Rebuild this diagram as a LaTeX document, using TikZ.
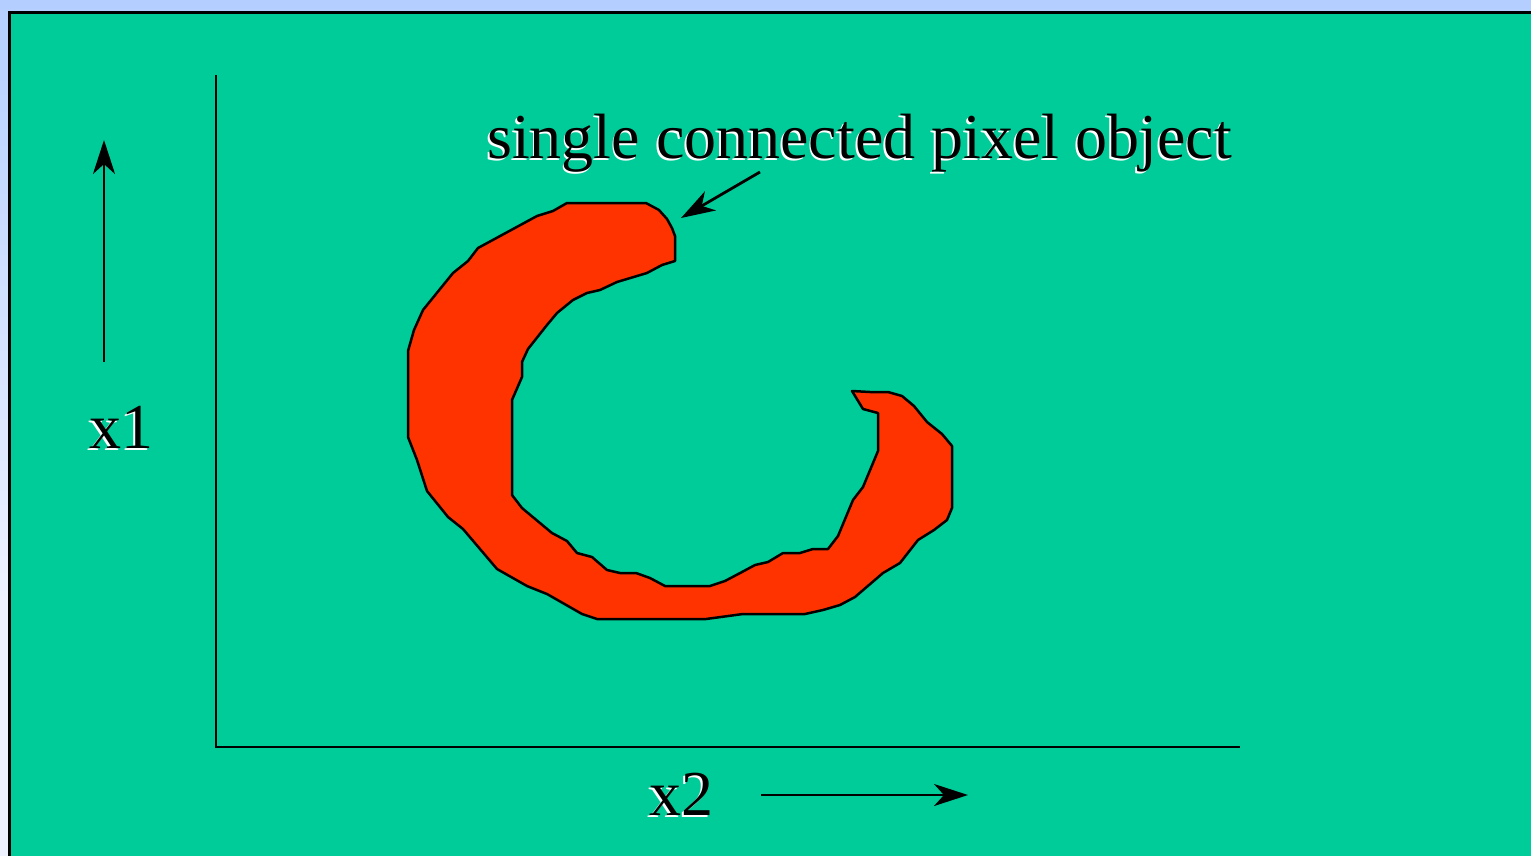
\documentclass[tikz,border=0pt]{standalone}
\usepackage{fontspec}
\setmainfont{Liberation Serif}
\usetikzlibrary{arrows.meta}
\definecolor{bggreen}{HTML}{00CC99}
\definecolor{blobred}{HTML}{FF3300}
\definecolor{bgA}{HTML}{D0DFFC}
\definecolor{bgB}{HTML}{EEF2FF}
\definecolor{bgC}{HTML}{A8C8FF}
\definecolor{bgD}{HTML}{50A0FF}
\pgfdeclareverticalshading{bgshade}{100bp}{color(0bp)=(bgA); color(15bp)=(bgB); color(40bp)=(bgB); color(82bp)=(bgC); color(100bp)=(bgD)}
\newcommand\shd[1]{\rlap{\kern-1.5pt\raisebox{-2pt}{\color{white}#1}}#1}
\tikzset{
  lbl/.style={inner sep=0pt, font=\fontsize{64}{64}\selectfont, text=black},
  arr/.style={line width=2.8pt, -{Stealth[length=34pt,width=22pt,inset=10pt]}},
  axis/.style={line width=2pt},
  blob/.style={fill=blobred, draw=black, line width=2.5pt, line join=round}
}
\begin{document}
\begin{tikzpicture}[x=1pt,y=-1pt]
\useasboundingbox (0,0) rectangle (1531,855);
\clip (0,0) rectangle (1531,855);
\shade[shading=bgshade] (0,0) rectangle (1531,855);
\draw[fill=bggreen, line width=3pt] (9.5,12.5) rectangle (1545,870);
% axes
\coordinate (o) at (216,747);
\coordinate (ytop) at (216,75);
\coordinate (xend) at (1240,747);
\draw[axis] (ytop) -- (o) -- (xend);
% blob
\draw[blob] (567,203)--(646,203)--(659,210)--(667,219)--(672,228)--(675,236)--(675,261)--(662,265)--(647,273)--(617,282)--(600,290)--(587,293)--(573,300)--(557,313)--(547,325)--(528,349)--(522,362)--(522,377)--(512,400)--(512,495)--(522,508)--(552,533)--(567,541)--(577,553)--(592,557)--(607,570)--(620,573)--(636,573)--(650,578)--(665,586)--(710,586)--(725,581)--(742,572)--(755,565)--(768,562)--(783,553)--(800,553)--(813,549)--(828,549)--(838,536)--(853,500)--(863,487)--(878,451)--(878,413)--(863,409)--(852,391)--(870,392)--(888,392)--(902,396)--(914,406)--(927,422)--(942,434)--(952,446)--(952,508)--(947,520)--(934,530)--(918,540)--(900,563)--(883,573)--(855,597)--(840,605)--(823,610)--(805,614)--(743,614)--(706,619)--(597,619)--(582,614)--(547,594)--(527,586)--(497,569)--(463,529)--(448,517)--(427,491)--(417,460)--(408,437)--(408,351)--(414,330)--(423,310)--(453,273)--(468,261)--(478,248)--(537,216)--(553,211)--cycle;
% labels
\node[lbl, anchor=base west] (title) at (487,158) {\shd{single connected pixel object}};
\node[lbl, anchor=base west] (xone) at (89,448) {\shd{x1}};
\node[lbl, anchor=base west] (xtwo) at (649,815) {\shd{x2}};
% arrows
\coordinate (a1s) at (104,362);
\coordinate (a1e) at (104,140);
\draw[arr] (a1s) -- (a1e);
\coordinate (a2s) at (761,795);
\coordinate (a2e) at (968,795);
\draw[arr] (a2s) -- (a2e);
\coordinate (a3s) at (760,172);
\coordinate (a3e) at (681,218);
\draw[arr] (a3s) -- (a3e);
\end{tikzpicture}
\end{document}
